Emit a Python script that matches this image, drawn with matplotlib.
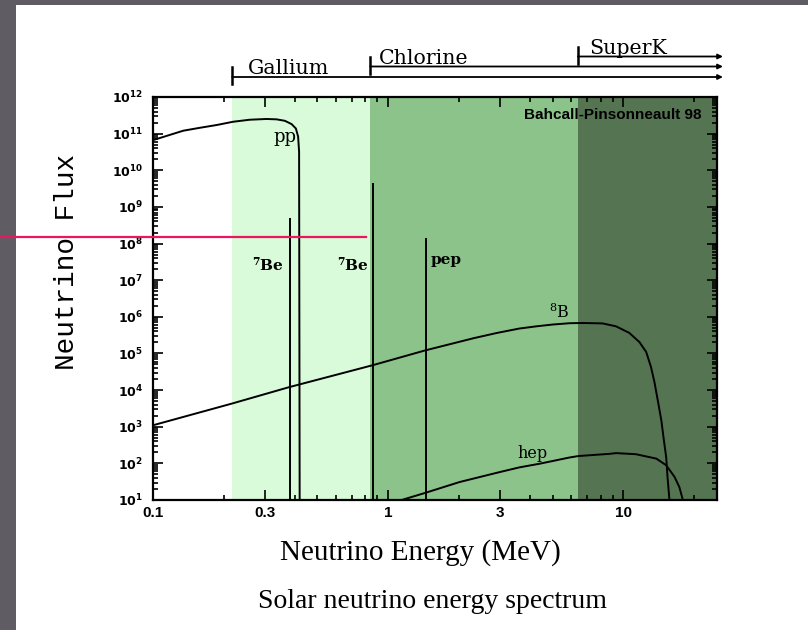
import matplotlib
matplotlib.use("Agg")
import numpy as np
import matplotlib.pyplot as plt
import matplotlib.transforms as mtransforms
from matplotlib.lines import Line2D
from matplotlib.patches import Rectangle
from matplotlib.ticker import FixedLocator, NullFormatter, FuncFormatter

# ---- spectra (energy in MeV, log10 of flux) ----
pp_energy = [0.1003, 0.1345, 0.1584, 0.1864, 0.2193, 0.2581, 0.3039, 0.3354,
             0.3637, 0.3884, 0.405, 0.414, 0.418, 0.4205]
pp_logflux = [10.825, 11.08, 11.16, 11.235, 11.325, 11.38, 11.40, 11.39,
              11.35, 11.26, 11.14, 10.92, 10.5, 0.0]

b8_energy = [0.1, 0.216, 0.379, 0.86, 1.43, 2.32, 2.9, 3.61, 4.26, 5.01,
             5.9, 6.44, 6.94, 8.16, 9.31, 10.6, 11.7, 12.5, 13.1, 13.55,
             14.0, 14.5, 14.8, 15.2, 15.4, 15.7]
b8_logflux = [3.04, 3.63, 4.08, 4.68, 5.08, 5.42, 5.56, 5.68, 5.74, 5.79,
              5.825, 5.83, 5.83, 5.82, 5.74, 5.56, 5.31, 5.04, 4.63, 4.22,
              3.72, 3.17, 2.72, 2.17, 1.63, 0.99]

hep_energy = [1.14, 1.43, 2.01, 2.97, 3.61, 4.40, 5.90, 6.44, 8.73, 9.31,
              11.3, 13.8, 15.2, 16.5, 17.3, 17.9]
hep_logflux = [1.0, 1.19, 1.49, 1.76, 1.89, 1.99, 2.16, 2.20, 2.26, 2.28,
               2.25, 2.13, 1.95, 1.63, 1.35, 1.0]

# monoenergetic lines
line_energy = [0.384, 0.862, 1.442]
line_flux = [4.9e8, 4.5e9, 1.4e8]

# detector thresholds (MeV)
detectors = ["Gallium", "Chlorine", "SuperK"]
thresholds = [0.217, 0.84, 6.4]
band_colors = ["#d9fbd9", "#8bc38b", "#547452"]

x_ticks = [0.1, 0.3, 1, 3, 10]
x_ticklabels = ["0.1", "0.3", "1", "3", "10"]
y_exponents = list(range(1, 13))

XMIN, XMAX = 0.1, 25.0
YMIN, YMAX = 1e1, 1e12

W, H = 808, 630
fig = plt.figure(figsize=(W / 100, H / 100), dpi=100, facecolor="#5f5d63")
fig.patches.append(Rectangle((16 / W, 0), 1 - 16 / W, 1 - 5 / H,
                             transform=fig.transFigure, facecolor="white",
                             edgecolor="none", zorder=-5))

ax = fig.add_axes([153 / W, 1 - 500 / H, (717 - 153) / W, (500 - 97) / H])
ax.set_xscale("log")
ax.set_yscale("log")
ax.set_xlim(XMIN, XMAX)
ax.set_ylim(YMIN, YMAX)
ax.patch.set_alpha(0)

# shaded sensitivity bands
edges = thresholds + [XMAX]
for i, c in enumerate(band_colors):
    ax.axvspan(edges[i], edges[i + 1], color=c, lw=0, zorder=0)

lw = 1.4
ax.plot(pp_energy, 10 ** np.array(pp_logflux), color="black", lw=lw, zorder=3)
ax.plot(b8_energy, 10 ** np.array(b8_logflux), color="black", lw=lw, zorder=3)
ax.plot(hep_energy, 10 ** np.array(hep_logflux), color="black", lw=lw, zorder=3)
ax.vlines(line_energy, YMIN, line_flux, color="black", lw=lw, zorder=3)

# curve labels
lab = dict(family="DejaVu Serif", fontweight="bold", fontsize=11,
           math_fontfamily="dejavuserif", zorder=4)
ax.text(0.363, 8.1e10, "pp", ha="center", va="center", fontsize=13,
        family="DejaVu Serif", zorder=4)
ax.text(0.308, 2.6e7, r"$^{\mathbf{7}}$Be", ha="center", va="center", **lab)
ax.text(0.707, 2.6e7, r"$^{\mathbf{7}}$Be", ha="center", va="center", **lab)
ax.text(1.77, 3.5e7, "pep", ha="center", va="center", **lab)
ax.text(5.35, 1.26e6, r"$^{8}$B", ha="center", va="center",
        family="DejaVu Serif", fontsize=11.5, math_fontfamily="dejavuserif", zorder=4)
ax.text(4.11, 1.9e2, "hep", ha="center", va="center", fontsize=11.5,
        family="DejaVu Serif", zorder=4)

ax.text(0.973, 0.955, "Bahcall-Pinsonneault 98", transform=ax.transAxes,
        ha="right", va="center", fontsize=11, fontweight="bold",
        family="Liberation Sans", zorder=4)

# axes styling
for s in ax.spines.values():
    s.set_linewidth(1.6)
    s.set_zorder(5)
ax.xaxis.set_major_locator(FixedLocator(x_ticks))
ax.xaxis.set_major_formatter(FuncFormatter(lambda v, p: x_ticklabels[x_ticks.index(v)] if v in x_ticks else ""))
minor_x = [m * 10.0 ** d for d in (-1, 0, 1) for m in range(2, 10)]
ax.xaxis.set_minor_locator(FixedLocator([v for v in minor_x if XMIN < v < XMAX]))
ax.xaxis.set_minor_formatter(NullFormatter())
ax.yaxis.set_major_locator(FixedLocator([10.0 ** e for e in y_exponents]))
ax.yaxis.set_major_formatter(FuncFormatter(lambda v, p: r"$\mathbf{10^{%d}}$" % round(np.log10(v))))
minor_y = [m * 10.0 ** d for d in range(1, 12) for m in range(2, 10)]
ax.yaxis.set_minor_locator(FixedLocator(minor_y))
ax.yaxis.set_minor_formatter(NullFormatter())
ax.tick_params(which="both", direction="in", top=True, right=True,
               color="black", width=1.2)
ax.tick_params(which="major", length=7)
ax.tick_params(which="minor", length=3.5)
ax.tick_params(axis="x", which="major", pad=4, labelsize=11)
ax.tick_params(axis="y", which="major", pad=7, labelsize=9)
for t in ax.get_xticklabels():
    t.set_fontweight("bold")
    t.set_family("Liberation Sans")
for t in ax.get_yticklabels():
    t.set_math_fontfamily("dejavusans")

# detector threshold brackets above the plot
trans = mtransforms.blended_transform_factory(ax.transData, fig.transFigure)
line_rows = [77, 66.5, 56.5]
label_dx = [16, 8, 11]  # px from the threshold tick to the label
for name, thr, row, dx in zip(detectors, thresholds, line_rows, label_dx):
    yf = 1 - row / H
    ax.annotate("", xy=(26.5, yf), xytext=(thr, yf), xycoords=trans,
                textcoords=trans, annotation_clip=False,
                arrowprops=dict(arrowstyle="-|>", color="black", lw=1.3,
                                mutation_scale=7, shrinkA=0, shrinkB=0))
    fig.add_artist(Line2D([thr, thr], [1 - (row + 7) / H, 1 - (row - 10) / H],
                          transform=trans, color="black", lw=1.8))
    label_tr = trans + mtransforms.ScaledTranslation(dx / 100, 3 / 100, fig.dpi_scale_trans)
    fig.text(thr, yf, name, transform=label_tr, ha="left", va="baseline",
             fontsize=14.8, family="DejaVu Serif")

# axis titles
fig.text(67 / W, 1 - 262 / H, "Neutrino Flux", rotation=90, ha="center",
         va="center", fontsize=20, family="Liberation Mono")
fig.text(420 / W, 1 - 553 / H, "Neutrino Energy (MeV)", ha="center",
         va="center", fontsize=21, family="Liberation Serif")
fig.text(433 / W, 1 - 601 / H, "Solar neutrino energy spectrum", ha="center",
         va="center", fontsize=20, family="Liberation Serif")

# highlight marker line
fig.add_artist(Line2D([0, 366 / W], [1 - 237 / H, 1 - 237 / H],
                      transform=fig.transFigure, color="#e8175f", lw=1.6,
                      zorder=10))

fig.savefig("out.png", dpi=100, facecolor=fig.get_facecolor())
